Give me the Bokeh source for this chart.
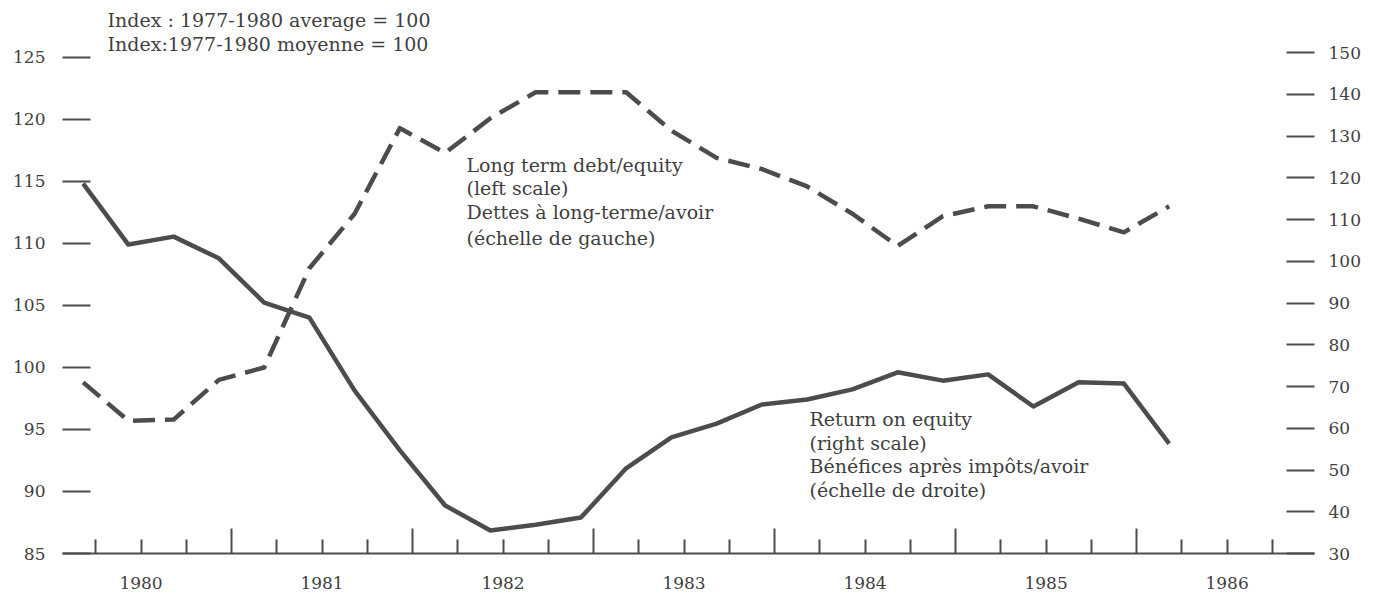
from bokeh.plotting import figure
from bokeh.models import Range1d, LinearAxis, FixedTicker, CustomJSTickFormatter, ColumnDataSource
from bokeh.core.properties import value
from bokeh.embed import file_html
from bokeh.resources import INLINE

# ---------------- data ----------------
periods = ["1980Q1", "1980Q2", "1980Q3", "1980Q4",
           "1981Q1", "1981Q2", "1981Q3", "1981Q4",
           "1982Q1", "1982Q2", "1982Q3", "1982Q4",
           "1983Q1", "1983Q2", "1983Q3", "1983Q4",
           "1984Q1", "1984Q2", "1984Q3", "1984Q4",
           "1985Q1", "1985Q2", "1985Q3", "1985Q4",
           "1986Q1"]
# Long term debt / equity (left scale)
debt_equity = [98.8, 95.7, 95.8, 99.0, 100.0, 108.0, 112.4, 119.3,
               117.3, 120.1, 122.2, 122.2, 122.2, 119.1, 116.9, 116.0,
               114.6, 112.4, 109.8, 112.2, 113.0, 113.0, 112.0, 110.9,
               113.0]
# Return on equity (right scale)
return_on_equity = [118.6, 104.0, 105.9, 100.7, 90.1, 86.5, 69.0, 54.7,
                    41.5, 35.5, 36.9, 38.6, 50.4, 57.8, 61.1, 65.7,
                    66.9, 69.3, 73.4, 71.4, 72.9, 65.2, 71.0, 70.7,
                    56.3]
years = [1980, 1981, 1982, 1983, 1984, 1985, 1986]
left_ticks = [85, 90, 95, 100, 105, 110, 115, 120, 125]
right_ticks = [30, 40, 50, 60, 70, 80, 90, 100, 110, 120, 130, 140, 150]

OBS_OFFSET = 0.18  # position of observation within the quarter (years)
xs = [int(p[:4]) + (int(p[5]) - 1) / 4 + OBS_OFFSET for p in periods]

INK = "#4a4d4b"
TXT = "#3f3f3f"
FONT = "DejaVu Serif"

p = figure(width=1369, height=596,
           x_range=Range1d(1980.066, 1986.983),
           y_range=Range1d(85, 128.79),
           x_axis_type=None, y_axis_type=None,
           output_backend="svg", toolbar_location=None,
           min_border_left=62, min_border_right=55,
           min_border_top=10, min_border_bottom=43)
p.extra_y_ranges = {"right": Range1d(30, 160.06)}
p.grid.visible = False
p.outline_line_color = None
p.background_fill_color = "white"
p.border_fill_color = "white"

# bottom axis with year and quarter tick marks
year_bounds = [y for y in years[1:]]
quarter_ticks = [y + q / 4 for y in years for q in (1, 2, 3)]
ax1 = LinearAxis(ticker=FixedTicker(ticks=year_bounds, minor_ticks=quarter_ticks),
                 formatter=CustomJSTickFormatter(code="return ''"))
ax1.major_tick_in = 25
ax1.major_tick_out = 0
ax1.minor_tick_in = 14
ax1.minor_tick_out = 0
ax1.major_label_text_font_size = "0px"
ax1.major_label_standoff = 0
for attr in ("axis_line", "major_tick_line", "minor_tick_line"):
    setattr(ax1, attr + "_color", INK)
    setattr(ax1, attr + "_width", 2)
p.add_layout(ax1, "below")

# bottom axis with year labels centred on each year
ax2 = LinearAxis(ticker=FixedTicker(ticks=[y + 0.5 for y in years], minor_ticks=[]),
                 formatter=CustomJSTickFormatter(code="return String(Math.floor(tick))"))
ax2.axis_line_color = None
ax2.major_tick_line_color = None
ax2.minor_tick_line_color = None
ax2.major_tick_in = 0
ax2.major_tick_out = 0
ax2.major_label_standoff = 23
ax2.major_label_text_font = FONT
ax2.major_label_text_font_size = "17px"
ax2.major_label_text_color = TXT
p.add_layout(ax2, "below")

# left axis
ly = LinearAxis(ticker=FixedTicker(ticks=left_ticks, minor_ticks=[]))
ly.axis_line_color = None
ly.major_tick_in = 28
ly.major_tick_out = 0
ly.major_tick_line_width = 2
ly.major_tick_line_color = INK
ly.minor_tick_line_color = None
ly.major_label_standoff = 17
ly.major_label_text_font = FONT
ly.major_label_text_font_size = "17px"
ly.major_label_text_color = TXT
p.add_layout(ly, "left")

# right axis
ry = LinearAxis(y_range_name="right", ticker=FixedTicker(ticks=right_ticks, minor_ticks=[]))
ry.axis_line_color = None
ry.major_tick_in = 28
ry.major_tick_out = 0
ry.major_tick_line_width = 2
ry.major_tick_line_color = INK
ry.minor_tick_line_color = None
ry.major_label_standoff = 14
ry.major_label_text_font = FONT
ry.major_label_text_font_size = "17px"
ry.major_label_text_color = TXT
p.add_layout(ry, "right")

# series
p.line(xs, debt_equity, line_color=INK, line_width=4.5, line_dash="22 10",
       line_join="round")
p.line(xs, return_on_equity, y_range_name="right", line_color=INK,
       line_width=4.5, line_join="round")

# annotations
ann_x = [1980.315, 1980.315,
         1982.298, 1982.298, 1982.298, 1982.298,
         1984.193, 1984.193, 1984.193, 1984.193]
ann_y = [128.0, 126.1,
         116.37, 114.44, 112.50, 110.48,
         95.81, 93.95, 92.02, 90.16]
ann_text = ["Index : 1977-1980 average = 100",
            "Index:1977-1980 moyenne = 100",
            "Long term debt/equity", "(left scale)",
            "Dettes à long-terme/avoir", "(échelle de gauche)",
            "Return on equity", "(right scale)",
            "Bénéfices après impôts/avoir", "(échelle de droite)"]
src = ColumnDataSource(dict(x=ann_x, y=ann_y, text=ann_text))
p.text(x="x", y="y", text="text", source=src, text_font=value(FONT),
       text_font_size="19px", text_color=TXT, text_baseline="middle",
       text_align="left")

open("out.html", "w").write(file_html(p, INLINE))
